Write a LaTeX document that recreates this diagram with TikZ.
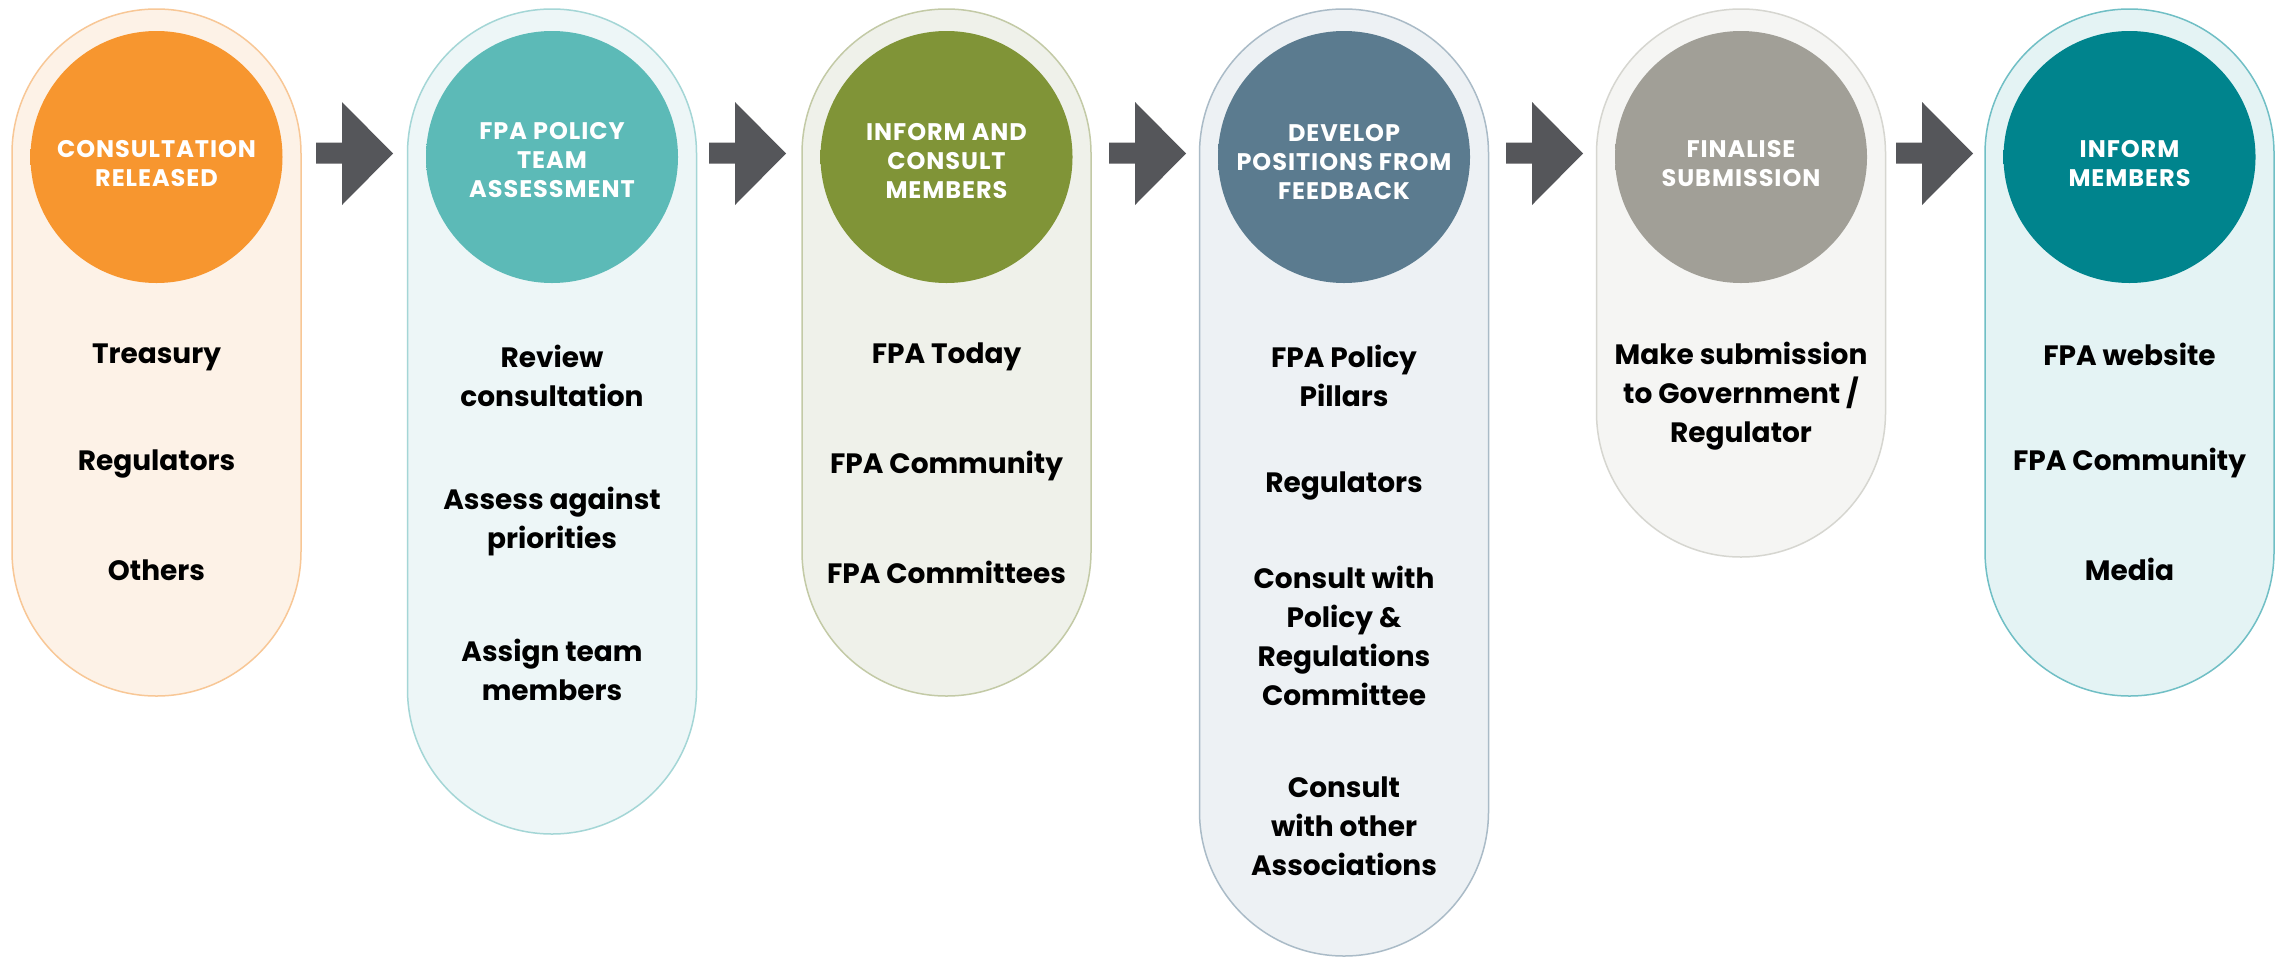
\documentclass[tikz,border=0pt]{standalone}
\usepackage{fontspec}
\setmainfont{Poppins}
\definecolor{arrowc}{HTML}{55565A}
\definecolor{fillA}{HTML}{FDF2E7}\definecolor{lineA}{HTML}{F8C796}
\definecolor{baseA}{HTML}{F7962F}\definecolor{rimA}{HTML}{DE7E22}
\definecolor{fillB}{HTML}{EDF6F7}\definecolor{lineB}{HTML}{A4D6D6}
\definecolor{baseB}{HTML}{5CBAB7}\definecolor{rimB}{HTML}{479F9C}
\definecolor{fillC}{HTML}{EFF1EA}\definecolor{lineC}{HTML}{C3CAA6}
\definecolor{baseC}{HTML}{809437}\definecolor{rimC}{HTML}{687A29}
\definecolor{fillD}{HTML}{EDF1F4}\definecolor{lineD}{HTML}{AABBC7}
\definecolor{baseD}{HTML}{5B7B8F}\definecolor{rimD}{HTML}{486577}
\definecolor{fillE}{HTML}{F5F5F3}\definecolor{lineE}{HTML}{D6D6D0}
\definecolor{baseE}{HTML}{A19F97}\definecolor{rimE}{HTML}{8B8981}
\definecolor{fillF}{HTML}{E4F3F4}\definecolor{lineF}{HTML}{70BFC5}
\definecolor{baseF}{HTML}{00848D}\definecolor{rimF}{HTML}{006A72}
\pgfdeclareradialshading{shA}{\pgfpointorigin}{color(0bp)=(baseA); color(39bp)=(baseA); color(50bp)=(rimA)}
\pgfdeclareradialshading{shB}{\pgfpointorigin}{color(0bp)=(baseB); color(39bp)=(baseB); color(50bp)=(rimB)}
\pgfdeclareradialshading{shC}{\pgfpointorigin}{color(0bp)=(baseC); color(39bp)=(baseC); color(50bp)=(rimC)}
\pgfdeclareradialshading{shD}{\pgfpointorigin}{color(0bp)=(baseD); color(39bp)=(baseD); color(50bp)=(rimD)}
\pgfdeclareradialshading{shE}{\pgfpointorigin}{color(0bp)=(baseE); color(39bp)=(baseE); color(50bp)=(rimE)}
\pgfdeclareradialshading{shF}{\pgfpointorigin}{color(0bp)=(baseF); color(39bp)=(baseF); color(50bp)=(rimF)}
\newcommand\fpacol[6]{%
  \draw[pill, fill=fill#1, draw=line#1] ({#2-144.5},9) rectangle ({#2+144.5},#3);
  \shade[shading=#4] (#2,157) circle (126);
  \coordinate (#1c) at (#2,157);
  \node[title] (#1t) at (#2,#5) {#6};
}
\newcommand\fpaarrow[2]{%
  \fill[arrowc] (#1,142.5) -- ({#1+26},142.5) -- ({#1+26},102) -- ({#1+77},153.5)
    -- ({#1+26},205) -- ({#1+26},163.5) -- (#1,163.5) -- cycle;
  \coordinate (#2) at ({#1+38},153.5);
}
\begin{document}
\begin{tikzpicture}[x=1pt,y=-1pt,
  pill/.style={line width=1.5pt, rounded corners=144.5pt},
  title/.style={text=white, font=\fontsize{24}{29}\selectfont\bfseries\addfontfeatures{LetterSpace=4}, align=center, inner sep=0pt},
  item/.style={text=black, font=\fontsize{28}{39}\selectfont\bfseries, align=center, inner sep=0pt}]
\fill[white] (0,0) rectangle (2282,959);
\useasboundingbox (0,0) rectangle (2282,959);
% columns
\fpacol{A}{156.5}{696}{shA}{164}{CONSULTATION\\RELEASED}
\fpacol{B}{552}{834}{shB}{160.5}{FPA POLICY\\TEAM\\ASSESSMENT}
\fpacol{C}{946.5}{696}{shC}{161}{INFORM AND\\CONSULT\\MEMBERS}
\fpacol{D}{1344}{956}{shD}{162}{DEVELOP\\POSITIONS FROM\\FEEDBACK}
\fpacol{E}{1741}{557}{shE}{164}{FINALISE\\SUBMISSION}
\fpacol{F}{2129.5}{696}{shF}{164}{INFORM\\MEMBERS}
% arrows
\fpaarrow{316}{ar1}
\fpaarrow{709}{ar2}
\fpaarrow{1109}{ar3}
\fpaarrow{1506}{ar4}
\fpaarrow{1896}{ar5}
% items
\node[item] (a1) at (156.5,357) {Treasury};
\node[item] (a2) at (156.5,464) {Regulators};
\node[item] (a3) at (156.5,570) {Others};
\node[item] (b1) at (552,375.5) {Review\\consultation};
\node[item] (b2) at (552,521) {Assess against\\priorities};
\node[item] (b3) at (552,669.5) {Assign team\\members};
\node[item] (c1) at (946.5,357) {FPA Today};
\node[item] (c2) at (946.5,466) {FPA Community};
\node[item] (c3) at (946.5,572) {FPA Committees};
\node[item] (d1) at (1344,375.5) {FPA Policy\\Pillars};
\node[item] (d2) at (1344,486) {Regulators};
\node[item] (d3) at (1344,636) {Consult with\\Policy \&\\Regulations\\Committee};
\node[item] (d4) at (1344,826) {Consult\\with other\\Associations};
\node[item] (e1) at (1741,396) {Make submission\\to Government /\\Regulator};
\node[item] (f1) at (2129.5,354) {FPA website};
\node[item] (f2) at (2129.5,463) {FPA Community};
\node[item] (f3) at (2129.5,569) {Media};
\end{tikzpicture}
\end{document}
